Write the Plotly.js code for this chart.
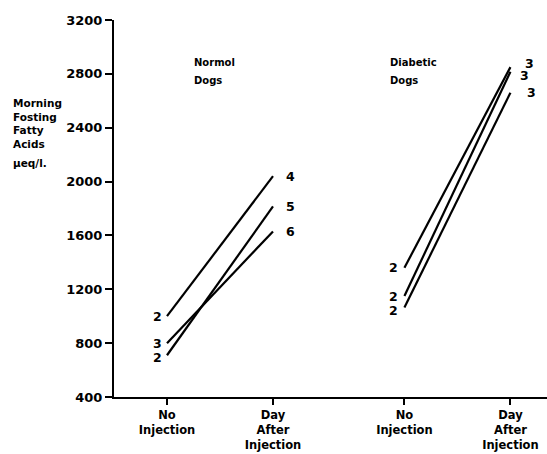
<!DOCTYPE html>
<html>
<head>
<meta charset="utf-8">
<script src="https://cdn.plot.ly/plotly-3.0.1.min.js"></script>
<style>html,body{margin:0;padding:0;background:#fff;}#chart{width:547px;height:454px;}</style>
</head>
<body>
<div id="chart"></div>
<script>
// ---- data ----
var conditionLabels = ["No<br>Injection", "Day<br>After<br>Injection", "No<br>Injection", "Day<br>After<br>Injection"];
var conditionPos = [1, 2, 3.24, 4.24];
var yTicks = [400, 800, 1200, 1600, 2000, 2400, 2800, 3200];

var normalBefore = [1000, 800, 710];
var normalAfter = [2040, 1630, 1815];
var normalBeforeN = ["2", "3", "2"];
var normalAfterN = ["4", "6", "5"];

var diabeticBefore = [1360, 1150, 1065];
var diabeticAfter = [2850, 2815, 2660];
var diabeticBeforeN = ["2", "2", "2"];
var diabeticAfterN = ["3", "3", "3"];

// ---- label offsets (styling) ----
var normBeforeShift = [[-10, 0], [-10, 0], [-10, -2]];
var normAfterShift = [[17, 0], [17, 0], [17, 0]];
var diabBeforeShift = [[-11, 0], [-11, 0], [-11, -3]];
var diabAfterShift = [[19, 4], [14, -4], [21, 0]];

var FONT = "DejaVu Sans";
var traces = [];
var annotations = [];
var numFont = {family: FONT, size: 12.5, weight: "bold", color: "#000"};

function addGroup(before, after, bN, aN, xb, xa, bs, as) {
  for (var i = 0; i < before.length; i++) {
    traces.push({
      x: [xb, xa], y: [before[i], after[i]],
      mode: "lines", type: "scatter",
      line: {color: "#000", width: 2.2}, hoverinfo: "skip", showlegend: false
    });
    annotations.push({x: xb, y: before[i], xref: "x", yref: "y", text: bN[i], showarrow: false,
      xshift: bs[i][0], yshift: bs[i][1], font: numFont});
    annotations.push({x: xa, y: after[i], xref: "x", yref: "y", text: aN[i], showarrow: false,
      xshift: as[i][0], yshift: as[i][1], font: numFont});
  }
}
addGroup(normalBefore, normalAfter, normalBeforeN, normalAfterN, conditionPos[0], conditionPos[1], normBeforeShift, normAfterShift);
addGroup(diabeticBefore, diabeticAfter, diabeticBeforeN, diabeticAfterN, conditionPos[2], conditionPos[3], diabBeforeShift, diabAfterShift);

var smallFont = {family: FONT, size: 10, weight: "bold", color: "#000"};
// panel titles
annotations.push({x: 1.236, y: 0.887, xref: "x", yref: "paper", text: "Normol", showarrow: false, xanchor: "left", yanchor: "middle", font: smallFont});
annotations.push({x: 1.236, y: 0.839, xref: "x", yref: "paper", text: "Dogs", showarrow: false, xanchor: "left", yanchor: "middle", font: smallFont});
annotations.push({x: 3.085, y: 0.887, xref: "x", yref: "paper", text: "Diabetic", showarrow: false, xanchor: "left", yanchor: "middle", font: smallFont});
annotations.push({x: 3.085, y: 0.839, xref: "x", yref: "paper", text: "Dogs", showarrow: false, xanchor: "left", yanchor: "middle", font: smallFont});
// y title
annotations.push({x: -0.238, y: 0.80, xref: "paper", yref: "paper", text: "Morning<br>Fosting<br>Fatty<br>Acids",
  showarrow: false, xanchor: "left", yanchor: "top", align: "left", font: {family: FONT, size: 10.5, weight: "bold", color: "#000"}});
annotations.push({x: -0.238, y: 0.621, xref: "paper", yref: "paper", text: "μeq/l.",
  showarrow: false, xanchor: "left", yanchor: "middle", align: "left", font: {family: FONT, size: 10.5, weight: "bold", color: "#000"}});

var layout = {
  width: 547, height: 454,
  margin: {l: 114, r: 0, t: 20, b: 57},
  paper_bgcolor: "#fff", plot_bgcolor: "#fff",
  showlegend: false,
  xaxis: {
    range: [0.5, 4.585], tickmode: "array", tickvals: conditionPos, ticktext: conditionLabels,
    showline: true, linecolor: "#000", linewidth: 2, ticks: "outside", ticklen: 6, tickwidth: 2, tickcolor: "#000",
    showgrid: false, zeroline: false, fixedrange: true,
    tickfont: {family: FONT, size: 11.5, weight: "bold", color: "#000"}
  },
  yaxis: {
    range: [400, 3200], tickmode: "array", tickvals: yTicks,
    showline: true, linecolor: "#000", linewidth: 2, ticks: "outside", ticklen: 7, tickwidth: 2, tickcolor: "#000",
    showgrid: false, zeroline: false, fixedrange: true,
    tickfont: {family: FONT, size: 13, weight: "bold", color: "#000"}
  },
  annotations: annotations
};
Plotly.newPlot("chart", traces, layout, {displayModeBar: false, staticPlot: true});
</script>
</body>
</html>
